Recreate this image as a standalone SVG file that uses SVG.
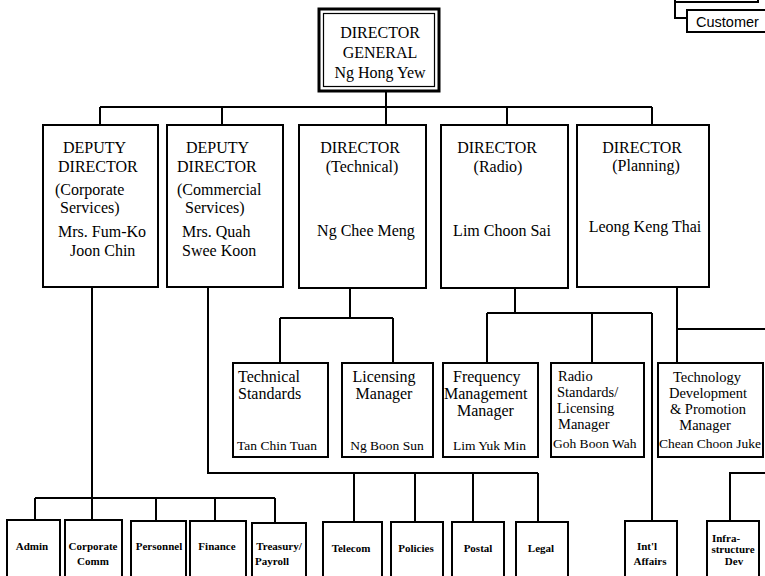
<svg xmlns="http://www.w3.org/2000/svg" width="765" height="576" viewBox="0 0 765 576">
<style>
  .bg { fill: #ffffff; }
  .box { fill: #ffffff; stroke: #000; stroke-width: 2; }
  .ln { fill: none; stroke: #000; stroke-width: 2; }
  .t { font-family: "Liberation Serif", "Times New Roman", serif; font-size: 16px; fill: #000; }
  .t2 { font-family: "Liberation Serif", "Times New Roman", serif; font-size: 14.5px; fill: #000; }
  .m { text-anchor: middle; }
  .nm { font-family: "Liberation Serif", "Times New Roman", serif; font-size: 13.5px; fill: #000; }
  .sm { font-family: "Liberation Serif", "Times New Roman", serif; font-size: 11px; font-weight: bold; fill: #000; text-anchor: middle; }
  .cu { font-family: "Liberation Sans", Arial, sans-serif; font-size: 14.5px; fill: #000; }
</style>
<rect class="bg" x="0" y="0" width="765" height="576"/>

<g id="connectors">
  <path class="ln" d="M675,0 V18 H687"/>
  <path class="ln" d="M675,2 H758 V0"/>
  <path class="ln" d="M386,90 V125"/>
  <path class="ln" d="M100,107 H652"/>
  <path class="ln" d="M100,107 V125 M222,107 V125 M507,107 V125 M652,107 V125"/>
  <path class="ln" d="M92,287 V520"/>
  <path class="ln" d="M35,498 H275"/>
  <path class="ln" d="M35,498 V520 M156,498 V521 M215,498 V521 M275,498 V523"/>
  <path class="ln" d="M208,287 V473 H538"/>
  <path class="ln" d="M354,473 V522 M415,473 V522 M473,473 V522 M538,473 V522"/>
  <path class="ln" d="M350,288 V318"/>
  <path class="ln" d="M280,318 H393"/>
  <path class="ln" d="M280,318 V363 M393,318 V363"/>
  <path class="ln" d="M515,288 V313"/>
  <path class="ln" d="M487,313 H652"/>
  <path class="ln" d="M487,313 V363 M592,313 V363 M652,313 V521"/>
  <path class="ln" d="M677,287 V363"/>
  <path class="ln" d="M677,329 H765"/>
  <path class="ln" d="M765,473 H730 V521"/>
</g>

<g id="customer">
  <rect class="box" x="687" y="10" width="90" height="22"/>
  <text class="cu" x="696" y="27">Customer</text>
</g>

<g id="director-general">
  <rect x="319" y="9" width="120" height="82" fill="#fff" stroke="#000" stroke-width="3"/>
  <rect x="323.5" y="13.5" width="111" height="73" fill="none" stroke="#000" stroke-width="1.2"/>
  <text class="t m" x="380" y="38">DIRECTOR</text>
  <text class="t m" x="380" y="58">GENERAL</text>
  <text class="t m" x="380" y="78">Ng Hong Yew</text>
</g>

<g id="deputy-corporate">
  <rect class="box" x="43" y="125" width="115" height="162"/>
  <text class="t" x="63" y="153">DEPUTY</text>
  <text class="t" x="58" y="172">DIRECTOR</text>
  <text class="t" x="55" y="195">(Corporate</text>
  <text class="t" x="60" y="213">Services)</text>
  <text class="t" x="58" y="237">Mrs. Fum-Ko</text>
  <text class="t" x="70" y="256">Joon Chin</text>
</g>

<g id="deputy-commercial">
  <rect class="box" x="167" y="125" width="116" height="162"/>
  <text class="t" x="186" y="153">DEPUTY</text>
  <text class="t" x="177" y="172">DIRECTOR</text>
  <text class="t" x="177" y="195">(Commercial</text>
  <text class="t" x="185" y="213">Services)</text>
  <text class="t" x="182" y="237">Mrs. Quah</text>
  <text class="t" x="182" y="256">Swee Koon</text>
</g>

<g id="director-technical">
  <rect class="box" x="299" y="125" width="127" height="163"/>
  <text class="t m" x="360" y="153">DIRECTOR</text>
  <text class="t m" x="362" y="172">(Technical)</text>
  <text class="t m" x="366" y="236">Ng Chee Meng</text>
</g>

<g id="director-radio">
  <rect class="box" x="441" y="125" width="127" height="163"/>
  <text class="t m" x="497" y="153">DIRECTOR</text>
  <text class="t m" x="498" y="172">(Radio)</text>
  <text class="t m" x="502" y="236">Lim Choon Sai</text>
</g>

<g id="director-planning">
  <rect class="box" x="577" y="125" width="132" height="162"/>
  <text class="t m" x="642" y="153">DIRECTOR</text>
  <text class="t m" x="646" y="171">(Planning)</text>
  <text class="t m" x="645" y="232">Leong Keng Thai</text>
</g>

<g id="technical-standards">
  <rect class="box" x="233" y="363" width="95" height="94"/>
  <text class="t" x="238" y="382">Technical</text>
  <text class="t" x="238" y="399">Standards</text>
  <text class="nm" x="237" y="450">Tan Chin Tuan</text>
</g>

<g id="licensing-manager">
  <rect class="box" x="342" y="363" width="91" height="94"/>
  <text class="t m" x="384" y="382">Licensing</text>
  <text class="t m" x="384" y="399">Manager</text>
  <text class="nm m" x="387" y="450">Ng Boon Sun</text>
</g>

<g id="frequency-management">
  <rect class="box" x="443" y="363" width="95" height="94"/>
  <text class="t" x="453" y="382">Frequency</text>
  <text class="t" x="444" y="399">Management</text>
  <text class="t" x="457" y="416">Manager</text>
  <text class="nm" x="453" y="450">Lim Yuk Min</text>
</g>

<g id="radio-standards">
  <rect class="box" x="551" y="363" width="93" height="94"/>
  <text class="t2" x="558" y="381">Radio</text>
  <text class="t2" x="557" y="397">Standards/</text>
  <text class="t2" x="557" y="413">Licensing</text>
  <text class="t2" x="558" y="429">Manager</text>
  <text class="nm" x="553" y="448">Goh Boon Wah</text>
</g>

<g id="technology-development">
  <rect class="box" x="658" y="363" width="105" height="94"/>
  <text class="t2 m" x="707" y="382">Technology</text>
  <text class="t2 m" x="708" y="398">Development</text>
  <text class="t2 m" x="708" y="414">&amp; Promotion</text>
  <text class="t2 m" x="705" y="430">Manager</text>
  <text class="nm" x="659" y="448">Chean Choon Juke</text>
</g>

<g id="admin">
  <path class="box" d="M7,580 V520 H60 V580"/>
  <text class="sm" x="32" y="550">Admin</text>
</g>
<g id="corporate-comm">
  <path class="box" d="M65,580 V520 H122 V580"/>
  <text class="sm" x="93" y="550">Corporate</text>
  <text class="sm" x="93" y="565">Comm</text>
</g>
<g id="personnel">
  <path class="box" d="M131,580 V521 H186 V580"/>
  <text class="sm" x="159" y="550">Personnel</text>
</g>
<g id="finance">
  <path class="box" d="M190,580 V521 H246 V580"/>
  <text class="sm" x="217" y="550">Finance</text>
</g>
<g id="treasury-payroll">
  <path class="box" d="M252,580 V523 H306 V580"/>
  <text class="sm" x="279" y="550">Treasury/</text>
  <text class="sm" x="272" y="565">Payroll</text>
</g>
<g id="telecom">
  <path class="box" d="M323,580 V522 H382 V580"/>
  <text class="sm" x="351" y="552">Telecom</text>
</g>
<g id="policies">
  <path class="box" d="M391,580 V522 H443 V580"/>
  <text class="sm" x="416" y="552">Policies</text>
</g>
<g id="postal">
  <path class="box" d="M452,580 V522 H504 V580"/>
  <text class="sm" x="478" y="552">Postal</text>
</g>
<g id="legal">
  <path class="box" d="M516,580 V522 H568 V580"/>
  <text class="sm" x="541" y="552">Legal</text>
</g>
<g id="intl-affairs">
  <path class="box" d="M625,580 V521 H677 V580"/>
  <text class="sm" x="647" y="550">Int'l</text>
  <text class="sm" x="650" y="565">Affairs</text>
</g>
<g id="infrastructure-dev">
  <path class="box" d="M707,580 V521 H759 V580"/>
  <text class="sm" x="726" y="542">Infra-</text>
  <text class="sm" x="733" y="553">structure</text>
  <text class="sm" x="734" y="565">Dev</text>
</g>
</svg>
